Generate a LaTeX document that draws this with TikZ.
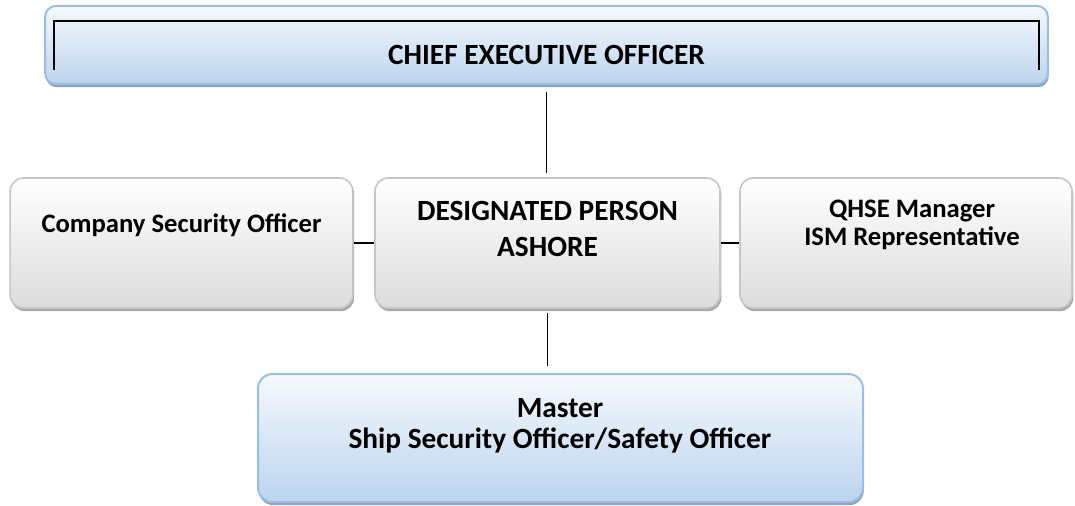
\documentclass[tikz,border=0pt]{standalone}
\usepackage{fontspec}
\setmainfont{Carlito}
\usetikzlibrary{shadows}
\definecolor{boxblue}{HTML}{9BBFE4}
\definecolor{blueshadow}{HTML}{8FA3BA}
\definecolor{bluetop}{HTML}{F6F9FD}
\definecolor{bluebot}{HTML}{BCD4EE}
\definecolor{boxgray}{HTML}{C6C6C6}
\definecolor{grayshadow}{HTML}{A9A9A9}
\definecolor{graybot}{HTML}{DCDCDC}

\begin{document}
\begin{tikzpicture}[x=0.75pt, y=-0.75pt,
    bluebox/.style={draw=boxblue, line width=1.5pt, rounded corners=8pt, top color=bluetop, bottom color=bluebot,
      drop shadow={shadow xshift=0.6pt, shadow yshift=-2.4pt, fill=blueshadow, opacity=1}},
    graybox/.style={draw=boxgray, line width=1.2pt, rounded corners=10pt, top color=white, bottom color=graybot,
      minimum height=97.5pt, drop shadow={shadow xshift=1pt, shadow yshift=-2.4pt, fill=grayshadow, opacity=1}},
    txt/.style={font=\bfseries\fontsize{22}{27}\selectfont, align=center, anchor=base},
    link/.style={line width=1.2pt}]
    \useasboundingbox (0,0) rectangle (1075,506) ;
    \node[bluebox, minimum width=752pt, minimum height=58.5pt] (ceo) at (546.5,45) {} ;
    \draw[line width=1.3pt] (54,70) -- (54,21) -- (1039,21) -- (1039,70) ;
    \node[txt] (ceo-t) at (546.5,65) {CHIEF EXECUTIVE OFFICER} ;
    \node[graybox, minimum width=257pt] (cso) at (181.5,243) {} ;
    \node[txt, font=\bfseries\fontsize{20}{27}\selectfont] (cso-t) at (181.5,233) {Company Security Officer} ;
    \node[graybox, minimum width=258.75pt] (dpa) at (547.5,243) {} ;
    \node[txt] (dpa-t1) at (547.5,220) {DESIGNATED PERSON} ;
    \node[txt] (dpa-t2) at (547.5,257) {ASHORE} ;
    \node[graybox, minimum width=249pt] (qhse) at (906,243) {} ;
    \node[txt, font=\bfseries\fontsize{20}{26}\selectfont] (qhse-t1) at (912,218) {QHSE Manager} ;
    \node[txt, font=\bfseries\fontsize{20}{26}\selectfont] (qhse-t2) at (912,245) {ISM Representative} ;
    \node[bluebox, rounded corners=11pt, minimum width=453.75pt, minimum height=96pt] (master) at (560.5,438) {} ;
    \node[txt] (master-t1) at (560,417) {Master} ;
    \node[txt] (master-t2) at (560,448) {Ship Security Officer/Safety Officer} ;
    \draw[link, shorten <=5pt, shorten >=3.5pt] (ceo.south) -- (ceo.south |- dpa.north) ;
    \draw[link] (cso.east) -- (dpa.west) ;
    \draw[link] (dpa.east) -- (qhse.west) ;
    \draw[link, shorten <=3pt, shorten >=5pt] (dpa.south) -- (dpa.south |- master.north) ;
  \end{tikzpicture}
\end{document}
